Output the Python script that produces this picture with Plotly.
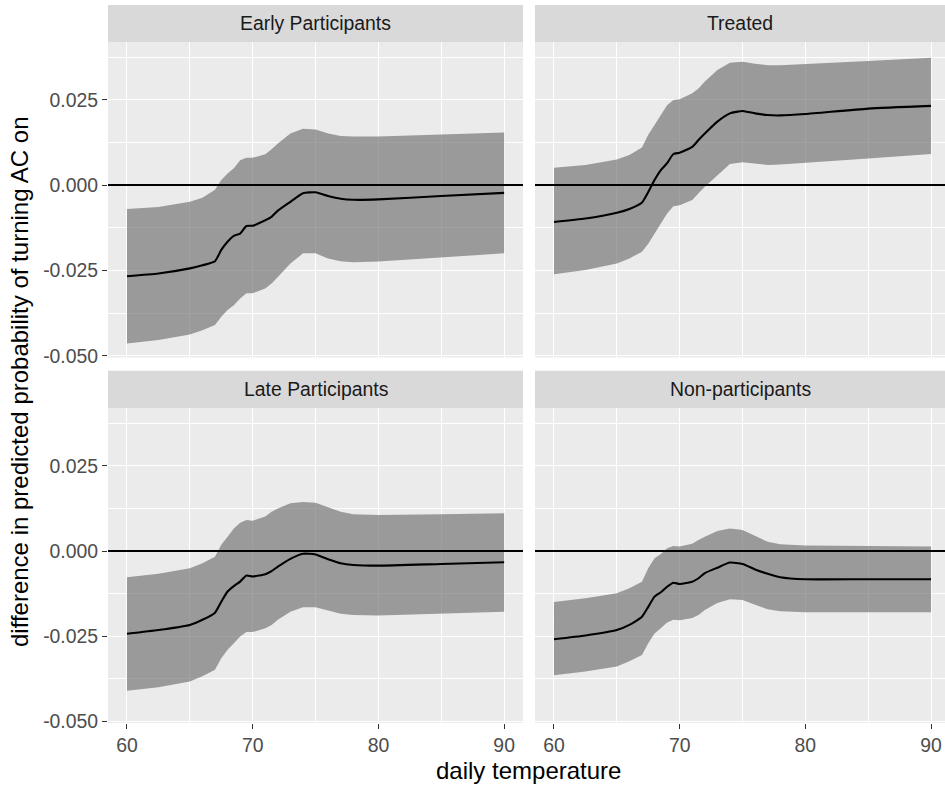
import plotly.graph_objects as go

W, H = 945, 786

temps = [60, 62.5, 65, 66, 67, 67.5, 68, 68.5, 69, 69.5, 70, 71, 71.5, 72, 73, 74, 75, 76, 77, 78, 80, 85, 90]

panels = ["Early Participants", "Treated", "Late Participants", "Non-participants"]

early_mean = [-0.0267, -0.0259, -0.0244, -0.0235, -0.0223, -0.0190, -0.0166, -0.0149, -0.0142, -0.0120, -0.0119, -0.0103, -0.0093, -0.0075, -0.0049, -0.0024, -0.0021, -0.0032, -0.0040, -0.0043, -0.0042, -0.0032, -0.0023]
early_hi = [-0.0070, -0.0064, -0.0049, -0.0037, -0.0014, 0.0015, 0.0034, 0.0049, 0.0073, 0.0080, 0.0080, 0.0090, 0.0105, 0.0122, 0.0151, 0.0165, 0.0163, 0.0151, 0.0144, 0.0142, 0.0142, 0.0147, 0.0154]
early_lo = [-0.0464, -0.0454, -0.0438, -0.0425, -0.0410, -0.0386, -0.0366, -0.0352, -0.0332, -0.0317, -0.0317, -0.0303, -0.0288, -0.0269, -0.0230, -0.0200, -0.0200, -0.0215, -0.0223, -0.0226, -0.0224, -0.0213, -0.0200]

treated_mean = [-0.0108, -0.0098, -0.0081, -0.0070, -0.0051, -0.0020, 0.0015, 0.0044, 0.0064, 0.0091, 0.0095, 0.0112, 0.0132, 0.0151, 0.0186, 0.0210, 0.0217, 0.0210, 0.0205, 0.0204, 0.0208, 0.0224, 0.0232]
treated_hi = [0.0051, 0.0059, 0.0075, 0.0088, 0.0110, 0.0147, 0.0176, 0.0205, 0.0234, 0.0249, 0.0251, 0.0269, 0.0283, 0.0303, 0.0337, 0.0358, 0.0361, 0.0355, 0.0351, 0.0351, 0.0354, 0.0363, 0.0373]
treated_lo = [-0.0261, -0.0249, -0.0230, -0.0215, -0.0195, -0.0172, -0.0142, -0.0112, -0.0083, -0.0062, -0.0059, -0.0044, -0.0024, -0.0005, 0.0029, 0.0062, 0.0067, 0.0062, 0.0059, 0.0060, 0.0064, 0.0078, 0.0091]

late_mean = [-0.0243, -0.0232, -0.0217, -0.0202, -0.0181, -0.0149, -0.0119, -0.0103, -0.0090, -0.0072, -0.0075, -0.0068, -0.0059, -0.0046, -0.0023, -0.0008, -0.0010, -0.0024, -0.0036, -0.0041, -0.0043, -0.0038, -0.0033]
late_hi = [-0.0077, -0.0067, -0.0051, -0.0036, -0.0017, 0.0018, 0.0042, 0.0066, 0.0083, 0.0091, 0.0089, 0.0101, 0.0115, 0.0125, 0.0140, 0.0144, 0.0142, 0.0128, 0.0115, 0.0108, 0.0106, 0.0108, 0.0111]
late_lo = [-0.0410, -0.0400, -0.0383, -0.0368, -0.0349, -0.0315, -0.0290, -0.0271, -0.0251, -0.0238, -0.0238, -0.0227, -0.0217, -0.0202, -0.0178, -0.0165, -0.0165, -0.0175, -0.0184, -0.0188, -0.0189, -0.0184, -0.0178]

non_mean = [-0.0259, -0.0248, -0.0232, -0.0217, -0.0193, -0.0164, -0.0134, -0.0121, -0.0105, -0.0093, -0.0097, -0.0090, -0.0080, -0.0065, -0.0049, -0.0034, -0.0038, -0.0054, -0.0067, -0.0077, -0.0083, -0.0083, -0.0083]
non_hi = [-0.0150, -0.0139, -0.0124, -0.0109, -0.0090, -0.0051, -0.0021, -0.0009, 0.0008, 0.0015, 0.0013, 0.0021, 0.0032, 0.0042, 0.0059, 0.0066, 0.0062, 0.0045, 0.0027, 0.0020, 0.0016, 0.0015, 0.0013]
non_lo = [-0.0365, -0.0354, -0.0339, -0.0324, -0.0305, -0.0271, -0.0242, -0.0227, -0.0210, -0.0202, -0.0203, -0.0197, -0.0188, -0.0173, -0.0153, -0.0142, -0.0144, -0.0158, -0.0171, -0.0177, -0.0180, -0.0180, -0.0180]

x_ticks = [60, 70, 80, 90]
x_minor = [65, 75, 85]
y_ticks = [-0.050, -0.025, 0.0, 0.025]
y_tick_text = ["-0.050", "-0.025", "0.000", "0.025"]
y_minor = [-0.0375, -0.0125, 0.0125, 0.0375]

series = [
    (early_mean, early_lo, early_hi),
    (treated_mean, treated_lo, treated_hi),
    (late_mean, late_lo, late_hi),
    (non_mean, non_lo, non_hi),
]

def px_x(p):
    return p / W

def px_y(p):
    return 1 - p / H

x_domains = [[px_x(108), px_x(523)], [px_x(535), 1.0]]
y_domains = [[px_y(357.5), px_y(42)], [px_y(723), px_y(408.3)]]
strip_y = [[px_y(42), px_y(5)], [px_y(408.3), px_y(370.7)]]
x_ranges = [[58.49, 91.50], [58.49, 91.11]]
y_range = [-0.0505, 0.0419]

fig = go.Figure()
layout = {}
shapes = []
annotations = []

FONT = "Liberation Sans, Arial, sans-serif"
TICK_FONT = dict(family=FONT, size=19.4, color="#4D4D4D")

for i, (name, (m, lo, hi)) in enumerate(zip(panels, series)):
    row, col = divmod(i, 2)
    n = i + 1
    xa = "x" if n == 1 else f"x{n}"
    ya = "y" if n == 1 else f"y{n}"
    fig.add_trace(go.Scatter(
        x=temps + temps[::-1], y=hi + lo[::-1], fill="toself",
        fillcolor="rgba(110,110,110,0.65)", line=dict(width=0),
        mode="lines", hoverinfo="skip", showlegend=False, xaxis=xa, yaxis=ya))
    fig.add_trace(go.Scatter(
        x=temps, y=m, mode="lines",
        line=dict(color="black", width=2.1, shape="spline", smoothing=0.5),
        showlegend=False, xaxis=xa, yaxis=ya))
    shapes.append(dict(type="line", xref=f"{xa} domain", yref=ya, x0=0, x1=1, y0=0, y1=0,
                       line=dict(color="black", width=2), layer="above"))
    shapes.append(dict(type="rect", xref="paper", yref="paper",
                       x0=x_domains[col][0], x1=x_domains[col][1],
                       y0=strip_y[row][0], y1=strip_y[row][1],
                       fillcolor="#D9D9D9", line=dict(width=0), layer="below"))
    annotations.append(dict(text=name, xref="paper", yref="paper",
                            x=(x_domains[col][0] + x_domains[col][1]) / 2,
                            y=(strip_y[row][0] + strip_y[row][1]) / 2,
                            xanchor="center", yanchor="middle", showarrow=False,
                            font=dict(family=FONT, size=19.4, color="#1A1A1A")))
    xkey = "xaxis" if n == 1 else f"xaxis{n}"
    ykey = "yaxis" if n == 1 else f"yaxis{n}"
    show_x = row == 1
    show_y = col == 0
    layout[xkey] = dict(
        domain=x_domains[col], range=x_ranges[col], anchor=ya,
        tickvals=x_ticks, ticktext=[str(v) for v in x_ticks],
        showticklabels=show_x, ticks="outside" if show_x else "",
        ticklen=5, tickwidth=1.4, tickcolor="#333333",
        showgrid=True, gridcolor="white", gridwidth=1.4,
        minor=dict(tickvals=x_minor, showgrid=True, gridcolor="white", gridwidth=0.7, ticks=""),
        zeroline=False, showline=False, tickfont=TICK_FONT, fixedrange=True)
    layout[ykey] = dict(
        domain=y_domains[row], range=y_range, anchor=xa,
        tickvals=y_ticks, ticktext=y_tick_text,
        showticklabels=show_y, ticks="outside" if show_y else "",
        ticklen=5, tickwidth=1.4, tickcolor="#333333",
        showgrid=True, gridcolor="white", gridwidth=1.4,
        minor=dict(tickvals=y_minor, showgrid=True, gridcolor="white", gridwidth=0.7, ticks=""),
        zeroline=False, showline=False, tickfont=TICK_FONT, fixedrange=True)

annotations.append(dict(text="daily temperature", xref="paper", yref="paper",
                        x=px_x(528), y=px_y(770), xanchor="center", yanchor="middle",
                        showarrow=False, font=dict(family=FONT, size=24, color="black")))
annotations.append(dict(text="difference in predicted probability of turning AC on", xref="paper", yref="paper",
                        x=px_x(20), y=px_y(382), xanchor="center", yanchor="middle", textangle=-90,
                        showarrow=False, font=dict(family=FONT, size=24, color="black")))

fig.update_layout(
    width=W, height=H, margin=dict(l=0, r=0, t=0, b=0, autoexpand=False),
    paper_bgcolor="white", plot_bgcolor="#EBEBEB",
    shapes=shapes, annotations=annotations, showlegend=False,
    **layout)

fig.write_html("out.html")
